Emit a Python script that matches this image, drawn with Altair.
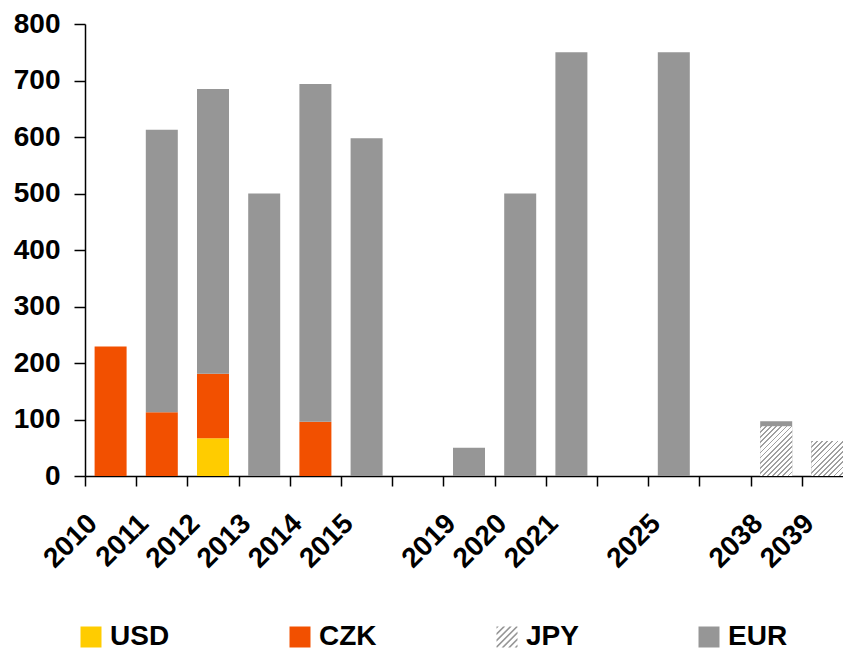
import altair as alt
import pandas as pd

# ---------------- data ----------------
years = ["2010", "2011", "2012", "2013", "2014", "2015", " ", "2019", "2020",
         "2021", "  ", "2025", "   ", "2038", "2039"]
usd = [0, 0, 67, 0, 0, 0, 0, 0, 0, 0, 0, 0, 0, 0, 0]
czk = [229, 113, 114, 0, 96, 0, 0, 0, 0, 0, 0, 0, 0, 0, 0]
jpy = [0, 0, 0, 0, 0, 0, 0, 0, 0, 0, 0, 0, 0, 88, 62]
eur = [0, 500, 504, 500, 598, 598, 0, 50, 500, 750, 0, 750, 0, 9, 0]

currencies = ["USD", "CZK", "JPY", "EUR"]
colors = ["#FFCC00", "#F25000", "#969696", "#969696"]
series = {"USD": usd, "CZK": czk, "JPY": jpy, "EUR": eur}
y_ticks = [0, 100, 200, 300, 400, 500, 600, 700, 800]

rows = []
for rank, cur in enumerate(currencies):
    for yr, v in zip(years, series[cur]):
        if v > 0:
            rows.append({"year": yr, "cur": cur, "value": v, "rank": rank})
df = pd.DataFrame(rows)

# ---------------- layout constants ----------------
FONT = "Liberation Sans"
PLOT_W = 758
RANGE_W = 768
PLOT_H = 452
YMAX = 800
STEP = RANGE_W / len(years)
P_IN, P_OUT = 0.375, 0.1875
BAR_W = STEP * (1 - P_IN)
PX = PLOT_H / YMAX

xscale = alt.Scale(domain=years, paddingInner=P_IN, paddingOuter=P_OUT, rangeMax=RANGE_W)
yscale = alt.Scale(domain=[0, YMAX], nice=False, zero=True)

xaxis = alt.Axis(title=None, labelAngle=-45, labelAlign="right", labelBaseline="middle",
                 labelFont=FONT, labelFontSize=28, labelFontWeight="bold", labelColor="black",
                 tickOffset=-STEP / 2, tickSize=10, tickColor="black", tickWidth=1.5,
                 domainColor="black", domainWidth=1.5, labelOffset=-18 + STEP / 2,
                 labelPadding=33, labelOverlap=False, grid=False)
yaxis = alt.Axis(title=None, values=y_ticks, labelFont=FONT, labelFontSize=28,
                 labelFontWeight="bold", labelColor="black", tickSize=11, tickColor="black",
                 tickWidth=1.5, domainColor="black", domainWidth=1.5, labelPadding=14,
                 grid=False)

cscale = alt.Scale(domain=currencies, range=colors)

legend = alt.Legend(title=None, orient="none", legendX=-8, legendY=599, direction="horizontal",
                    columns=4, symbolSize=441, symbolOpacity=1, symbolStrokeWidth=0,
                    labelFont=FONT, labelFontSize=28, labelFontWeight="bold", labelColor="black",
                    labelOffset=5, columnPadding=116, padding=0, labelLimit=300)

bars = alt.Chart(df).mark_bar().encode(
    x=alt.X("year:O", sort=years, scale=xscale, axis=xaxis),
    y=alt.Y("value:Q", stack="zero", scale=yscale, axis=yaxis),
    color=alt.Color("cur:N", scale=cscale, legend=legend, sort=currencies),
    order=alt.Order("rank:Q"),
)

# ---------------- hatch overlays for JPY ----------------
def hatch_gradient(w, h, period=5.0, frac=0.35, c1="#A0A0A0", c2="#FFFFFF"):
    c = (w + h) * w * h / (w * w + h * h)
    n = max(1, round((w + h) / period))
    stops = []
    for k in range(n):
        a = k / n
        b = (k + frac) / n
        e = (k + 1) / n
        stops += [{"offset": a, "color": c1}, {"offset": b, "color": c1},
                  {"offset": b, "color": c2}, {"offset": e, "color": c2}]
    return {"gradient": "linear", "x1": 0, "y1": 0, "x2": c / h, "y2": c / w, "stops": stops}

jdf = df[df.cur == "JPY"]
hatch_layers = []
for _, r in jdf.iterrows():
    g = hatch_gradient(BAR_W, r["value"] * PX)
    hatch_layers.append(
        alt.Chart(jdf[jdf.year == r["year"]]).mark_bar(color=g).encode(
            x=alt.X("year:O", sort=years, scale=xscale, axis=xaxis),
            y=alt.Y("value:Q", scale=yscale, axis=yaxis),
        )
    )

# ---------------- legend symbols (invisible points carrying color + shape) ----------------
def clip(poly, a, b, c):
    # keep a*x + b*y <= c
    out = []
    n = len(poly)
    for i in range(n):
        p, q = poly[i], poly[(i + 1) % n]
        fp = a * p[0] + b * p[1] - c
        fq = a * q[0] + b * q[1] - c
        if fp <= 0:
            out.append(p)
        if (fp < 0 < fq) or (fq < 0 < fp):
            t = fp / (fp - fq)
            out.append((p[0] + t * (q[0] - p[0]), p[1] + t * (q[1] - p[1])))
    return out

def hatch_path(period=0.62, frac=0.35):
    square = [(-1, -1), (1, -1), (1, 1), (-1, 1)]
    parts = []
    s = -2.0
    while s < 2.0:
        poly = clip(square, -1, -1, -s)               # x + y >= s
        poly = clip(poly, 1, 1, s + frac * period)    # x + y <= s + d
        if len(poly) >= 3:
            parts.append("M" + "L".join(f"{x:.3f},{y:.3f}" for x, y in poly) + "Z")
        s += period
    return "".join(parts)

shapes = ["square", "square", hatch_path(), "square"]
ldf = pd.DataFrame({"cur": currencies})

legend_layer = alt.Chart(ldf).mark_point(filled=True, opacity=0, size=1).encode(
    color=alt.Color("cur:N", scale=cscale, legend=legend, sort=currencies),
    shape=alt.Shape("cur:N", scale=alt.Scale(domain=currencies, range=shapes), legend=legend,
                    sort=currencies),
)

chart = alt.layer(bars, *hatch_layers, legend_layer).properties(
    width=PLOT_W, height=PLOT_H,
    background="white",
    autosize=alt.AutoSizeParams(type="none"),
    padding={"left": 85, "top": 24, "right": 0, "bottom": 173},
).configure_view(stroke="transparent", strokeWidth=0)

chart.save("out.html", embed_options={"renderer": "svg", "actions": False})
